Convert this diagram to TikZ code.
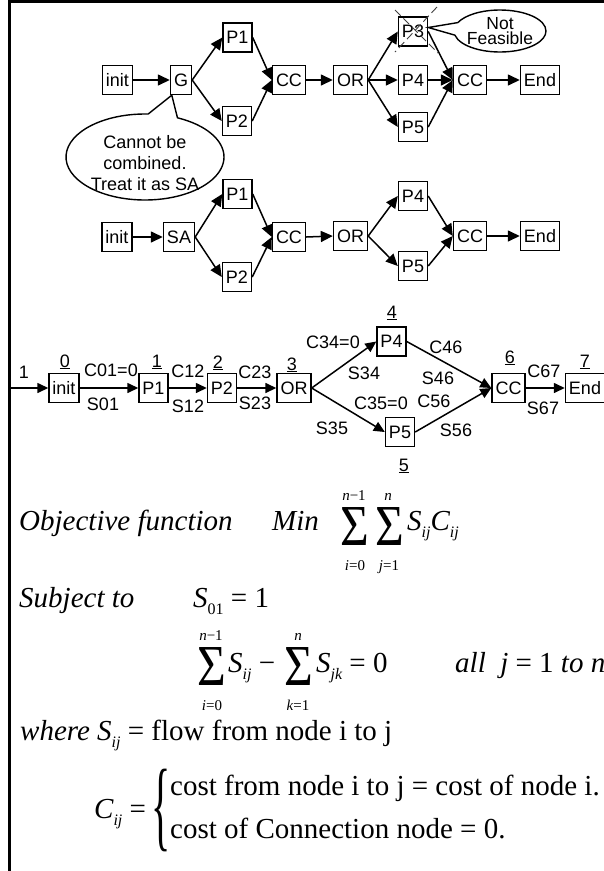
\documentclass[tikz,border=0pt]{standalone}
\usepackage{fontspec}
\setmainfont{Liberation Sans}
\newfontfamily\tms{Liberation Serif}
\usetikzlibrary{arrows.meta,shapes.callouts,shapes.geometric}
\newcommand{\eqf}{\fontsize{29}{33}\selectfont\tms}
\newcommand{\smf}{\fontsize{16}{18}\selectfont\tms}
\newcommand{\lmf}{\fontsize{15}{17}\selectfont\tms}
\newcommand{\sbs}[1]{\raisebox{-7pt}{\smf\itshape #1}}
\newcommand{\sgf}{\fontsize{58}{58}\selectfont\tms}
\begin{document}
\begin{tikzpicture}[x=1pt,y=-1pt,
  box/.style={draw, line width=1.4pt, inner xsep=3.5pt, inner ysep=1pt, minimum height=29pt, font=\fontsize{18}{20}\selectfont},
  arr/.style={line width=1.5pt, -{Triangle[length=12pt,width=11pt]}},
  barr/.style={line width=1.5pt, -{Triangle[length=11pt,width=10pt]}},
  lab/.style={inner sep=0pt, font=\fontsize{18}{20}\selectfont},
  num/.style={inner sep=0pt, anchor=base, font=\fontsize{18}{20}\selectfont},
  eq/.style={inner sep=0pt, anchor=base west, font=\eqf},
  lim/.style={inner sep=0pt, anchor=base, font=\lmf},
  sg/.style={inner sep=0pt, anchor=base, font=\sgf, xscale=0.85, text height=38pt, text depth=0pt},
  xdash/.style={line width=0.9pt, draw=black!75, dash pattern=on 8pt off 4pt}
]
\useasboundingbox (0,0) rectangle (604,871);
% frame
\coordinate (ftl) at (9.7,1.3);
\coordinate (ftr) at (604,1.3);
\coordinate (fbl) at (9.7,871);
\draw[line width=2.7pt] (ftr) -- (ftl |- ftr) ;
\draw[line width=2.7pt] (9.7,0) -- (fbl);

% ---------- top diagram ----------
\node[box] (ti) at (117.5,80) {init};
\node[box] (tg) at (181,80) {G};
\node[box] (tp1) at (237.5,37.5) {P1};
\node[box] (tp2) at (237,121) {P2};
\node[box] (tcc) at (289,80) {CC};
\node[box] (tor) at (350.5,80) {OR};
\node[box] (tp3) at (413,31.5) {P3};
\node[box] (tp4) at (413,80) {P4};
\node[box] (tp5) at (413,127) {P5};
\node[box] (tcc2) at (470,80) {CC};
\node[box] (tend) at (540,80) {End};
\draw[arr] (ti.east) -- (tg.west);
\draw[arr] (tg.east) -- (tp1.west);
\draw[arr] (tg.east) -- (tp2.west);
\draw[arr] (tp1.east) -- (tcc.west);
\draw[arr] (tp2.east) -- (tcc.west);
\draw[arr] (tcc.east) -- (tor.west);
\draw[arr] (tor.east) -- (tp3.west);
\draw[arr] (tor.east) -- (tp4.west);
\draw[arr] (tor.east) -- (tp5.west);
\draw[arr] (tp3.east) -- (tcc2.west);
\draw[arr] (tp4.east) -- (tcc2.west);
\draw[arr] (tp5.east) -- (tcc2.west);
\draw[arr] (tcc2.east) -- (tend.west);
% cross over P3
\coordinate (x1a) at (395,10);
\coordinate (x1b) at (438,53);
\coordinate (x2a) at (437,7);
\coordinate (x2b) at (395,52);
\draw[xdash] (x1a) -- (x1b);
\draw[xdash] (x2a) -- (x2b);
% callouts
\node[ellipse callout, draw, line width=1.4pt, fill=white, inner sep=0pt,
      minimum width=158pt, minimum height=86pt, callout pointer arc=22,
      callout absolute pointer={([xshift=2pt]tg.south west)}] (c1) at (145,157) {};
\node[align=center, inner sep=0pt, font=\fontsize{18}{21}\selectfont] (c1t) at (145,163) {Cannot be\\combined.\\Treat it as SA};
\node[ellipse callout, draw, line width=1.4pt, fill=white, inner sep=0pt,
      minimum width=92pt, minimum height=42pt, callout pointer arc=35,
      callout absolute pointer={([yshift=4pt]tp3.east)}] (c2) at (500,31) {};
\node[align=center, inner sep=0pt, font=\fontsize{17.5}{14.5}\selectfont] (c2t) at (500,31) {Not\\Feasible};

% ---------- middle diagram ----------
\node[box] (mi) at (117,237) {init};
\node[box] (msa) at (179,237) {SA};
\node[box] (mp1) at (237.5,194) {P1};
\node[box] (mp2) at (237,277) {P2};
\node[box] (mcc) at (289,237) {CC};
\node[box] (mor) at (350.5,236) {OR};
\node[box] (mp4) at (413,196) {P4};
\node[box] (mp5) at (413,266) {P5};
\node[box] (mcc2) at (470,236) {CC};
\node[box] (mend) at (540,236) {End};
\draw[arr] (mi.east) -- (msa.west);
\draw[arr] (msa.east) -- (mp1.west);
\draw[arr] (msa.east) -- (mp2.west);
\draw[arr] (mp1.east) -- (mcc.west);
\draw[arr] (mp2.east) -- (mcc.west);
\draw[arr] (mcc.east) -- (mor.west);
\draw[arr] (mor.east) -- (mp4.west);
\draw[arr] (mor.east) -- (mp5.west);
\draw[arr] (mp4.east) -- (mcc2.west);
\draw[arr] (mp5.east) -- (mcc2.west);
\draw[arr] (mcc2.east) -- (mend.west);

% ---------- bottom graph ----------
\coordinate (bs) at (11,388);
\node[box] (bi) at (64,388) {init};
\node[box] (bp1) at (153.5,388) {P1};
\node[box] (bp2) at (222,388) {P2};
\node[box] (bor) at (294,388) {OR};
\node[box] (bp4) at (391.5,341.5) {P4};
\node[box] (bp5) at (400,432) {P5};
\node[box] (bcc) at (508.5,388) {CC};
\node[box] (bend) at (585,388) {End};
\draw[barr] (bs) -- (bi.west);
\draw[barr] (bi.east) -- (bp1.west);
\draw[barr] (bp1.east) -- (bp2.west);
\draw[barr] (bp2.east) -- (bor.west);
\draw[barr] (bor.east) -- (bp4.west);
\draw[barr] (bor.east) -- (bp5.west);
\draw[barr] (bp4.east) -- (bcc.west);
\draw[barr] (bp5.east) -- (bcc.west);
\draw[barr] (bcc.east) -- (bend.west);
\node[lab] (l1) at (24,372) {1};
\node[num] (n0) at (65,367) {\underline{0}};
\node[num] (n1) at (157,367) {\underline{1}};
\node[num] (n2) at (218,368) {\underline{2}};
\node[num] (n3) at (292,370) {\underline{3}};
\node[num] (n4) at (392,318) {\underline{4}};
\node[num] (n5) at (404,471) {\underline{5}};
\node[num] (n6) at (510,363) {\underline{6}};
\node[num] (n7) at (585,367) {\underline{7}};
\node[lab] (c01) at (111,370) {C01=0};
\node[lab] (s01) at (103,404) {S01};
\node[lab] (c12) at (188,371) {C12};
\node[lab] (s12) at (188,406) {S12};
\node[lab] (c23) at (255,372) {C23};
\node[lab] (s23) at (255,403) {S23};
\node[lab] (c34) at (333,342) {C34=0};
\node[lab] (s34) at (364,373) {S34};
\node[lab] (s35) at (332,428) {S35};
\node[lab] (c35) at (381,403) {C35=0};
\node[lab] (c46) at (446,347) {C46};
\node[lab] (s46) at (438,378) {S46};
\node[lab] (c56) at (434,401) {C56};
\node[lab] (s56) at (456,430) {S56};
\node[lab] (c67) at (544,371) {C67};
\node[lab] (s67) at (543,408) {S67};

% ---------- equations ----------
\node[eq, font=\eqf\itshape] (obj) at (19,530) {Objective function};
\node[eq, font=\eqf\itshape] (min) at (272,530) {Min};
\node[sg] (sg1) at (355,545) {Σ};
\node[lim] (u1) at (354,500) {\itshape n\upshape −1};
\node[lim] (d1) at (355,570) {\itshape i\upshape =0};
\node[sg] (sg2) at (390,545) {Σ};
\node[lim] (u2) at (388,500) {\itshape n};
\node[lim] (d2) at (389,570) {\itshape j\upshape =1};
\node[eq, font=\eqf\itshape] (obj2) at (407,530) {S\sbs{ij}C\sbs{ij}};

\node[eq, font=\eqf\itshape] (subj) at (19,607) {Subject to};
\node[eq] (s01e) at (193,607) {\itshape S\sbs{\upshape 01}\upshape\ = 1};

\node[sg] (sg3) at (212,685) {Σ};
\node[lim] (u3) at (211,640) {\itshape n\upshape −1};
\node[lim] (d3) at (212,710) {\itshape i\upshape =0};
\node[eq] (sij) at (228,672) {\itshape S\sbs{ij}\upshape\ −};
\node[sg] (sg4) at (299,685) {Σ};
\node[lim] (u4) at (298,640) {\itshape n};
\node[lim] (d4) at (298,710) {\itshape k\upshape =1};
\node[eq] (sjk) at (316,672) {\itshape S\sbs{jk}\upshape\ = 0};
\node[eq] (allj) at (455,672) {\itshape all\ \ j\upshape\ = 1\ \itshape to n};

\node[eq] (where) at (20,740) {\itshape where S\sbs{ij}\upshape\ = flow from node i to j};

\node[eq] (cij) at (94,818) {\itshape C\sbs{ij}\upshape\ =};
\node[inner sep=0pt, anchor=center, font=\fontsize{40}{40}\selectfont\tms, yscale=2.5] (brace) at (161,810) {\{};
\node[eq] (case1) at (170,795) {cost from node i to j = cost of node i.};
\node[eq] (case2) at (170,838) {cost of Connection node = 0.};
\end{tikzpicture}
\end{document}
